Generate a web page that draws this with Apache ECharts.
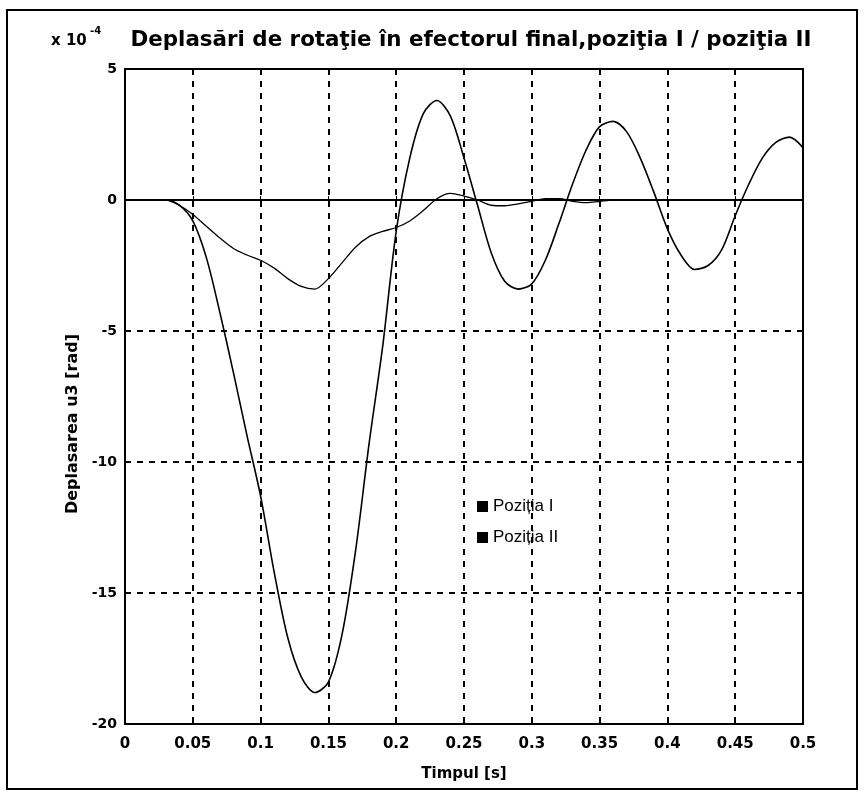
<!DOCTYPE html>
<html><head><meta charset="utf-8">
<script src="https://cdn.jsdelivr.net/npm/echarts@6/dist/echarts.min.js"></script>
<style>html,body{margin:0;padding:0;background:#fff}#c{width:864px;height:795px}</style>
</head><body><div id="c"></div>
<script>
// time in seconds
const timeS = [0,0.01,0.02,0.03,0.04,0.05,0.06,0.07,0.08,0.09,0.10,0.11,0.12,0.13,0.14,0.15,0.16,0.17,0.18,0.19,0.20,0.21,0.22,0.23,0.24,0.25,0.26,0.27,0.28,0.29,0.30,0.31,0.32,0.33,0.34,0.35,0.36,0.37,0.38,0.39,0.40,0.41,0.42,0.43,0.44,0.45,0.46,0.47,0.48,0.49,0.50];
// displacement, units of 1e-4 rad
const pozitiaI = [0,0,0,0,-0.2,-0.8,-2.2,-4.3,-6.6,-9.0,-11.3,-14.2,-16.7,-18.2,-18.8,-18.4,-16.6,-13.4,-9.3,-5.6,-1.2,1.6,3.3,3.8,3.2,1.6,-0.2,-2.0,-3.1,-3.4,-3.2,-2.3,-0.9,0.6,1.9,2.8,3.0,2.6,1.6,0.3,-1.1,-2.1,-2.65,-2.5,-1.9,-0.6,0.6,1.6,2.2,2.4,2.0];
const pozitiaII = [0,0,0,0,-0.2,-0.55,-1.0,-1.45,-1.85,-2.1,-2.3,-2.6,-3.0,-3.3,-3.4,-3.0,-2.4,-1.8,-1.4,-1.2,-1.05,-0.8,-0.4,0.05,0.25,0.15,0.0,-0.2,-0.22,-0.15,-0.05,0.05,0.05,-0.05,-0.1,-0.05,0,0,0,0,0,0,0,0,0,0,0,0,0,0,0];
const seriesNames = ['Poziția I','Poziția II'];
const xTicks = ['0','0.05','0.1','0.15','0.2','0.25','0.3','0.35','0.4','0.45','0.5'];
const yTicks = ['-20','-15','-10','-5','0','5'];
const titleText = 'Deplasări de rotaţie în efectorul final,poziţia I / poziţia II';
const xName = 'Timpul [s]';
const yName = 'Deplasarea u3 [rad]';

const chart = echarts.init(document.getElementById('c'));
const F = 'Liberation Sans, Arial, sans-serif';
const B = 'DejaVu Sans, sans-serif';
const pair = arr => timeS.map((t,i)=>[t,arr[i]]);
chart.setOption({
  animation:false,
  backgroundColor:'#fff',
  title:{text:titleText,left:466,textAlign:'center',top:25,textStyle:{fontFamily:B,fontWeight:'bold',fontSize:21.4,color:'#000'}},
  legend:{orient:'vertical',left:472,top:493,itemGap:14,itemWidth:11,itemHeight:11,icon:'rect',
    textStyle:{fontFamily:F,fontSize:17,color:'#000'},data:seriesNames},
  grid:{left:125,right:61,top:69,bottom:71,show:true,borderColor:'#000',borderWidth:2},
  xAxis:{type:'value',min:0,max:0.5,interval:0.05,
    name:xName,nameLocation:'middle',nameGap:43,
    nameTextStyle:{fontFamily:B,fontWeight:'bold',fontSize:15,color:'#000'},
    axisLine:{lineStyle:{color:'#000',width:2}},
    axisTick:{inside:true,length:4,lineStyle:{color:'#000'}},
    axisLabel:{margin:13,fontFamily:B,fontWeight:'bold',fontSize:15,color:'#000',
      formatter:(v)=>xTicks[Math.round(v/0.05)]},
    splitLine:{show:true,lineStyle:{color:'#000',type:[6,6],width:2}}},
  yAxis:{type:'value',min:-20,max:5,interval:5,
    axisLine:{lineStyle:{color:'#000',width:2}},
    axisTick:{inside:true,length:4,lineStyle:{color:'#000'}},
    axisLabel:{margin:8,fontFamily:B,fontWeight:'bold',fontSize:14,color:'#000',
      formatter:(v)=>yTicks[Math.round((v+20)/5)]},
    splitLine:{show:true,lineStyle:{color:'#000',type:[6,6],width:2}}},
  series:[
    {name:seriesNames[0],type:'line',data:pair(pozitiaI),smooth:0.3,showSymbol:false,color:'#000',lineStyle:{color:'#000',width:1.6},z:3},
    {name:seriesNames[1],type:'line',data:pair(pozitiaII),smooth:0.3,showSymbol:false,color:'#000',lineStyle:{color:'#000',width:1.3},z:3}
  ],
  graphic:[
    {type:'rect',shape:{x:7,y:10,width:850,height:779},style:{fill:null,stroke:'#000',lineWidth:2},silent:true},
    {type:'text',x:51,y:34,style:{text:'x 10',font:'bold 15px '+B,fill:'#000'}},
    {type:'text',x:90,y:26,style:{text:'-4',font:'bold 10px '+B,fill:'#000'}},
    {type:'text',x:73,y:424,rotation:Math.PI/2,style:{text:yName,font:'bold 16px '+B,fill:'#000',align:'center',verticalAlign:'middle'}}
  ]
});
</script></body></html>
